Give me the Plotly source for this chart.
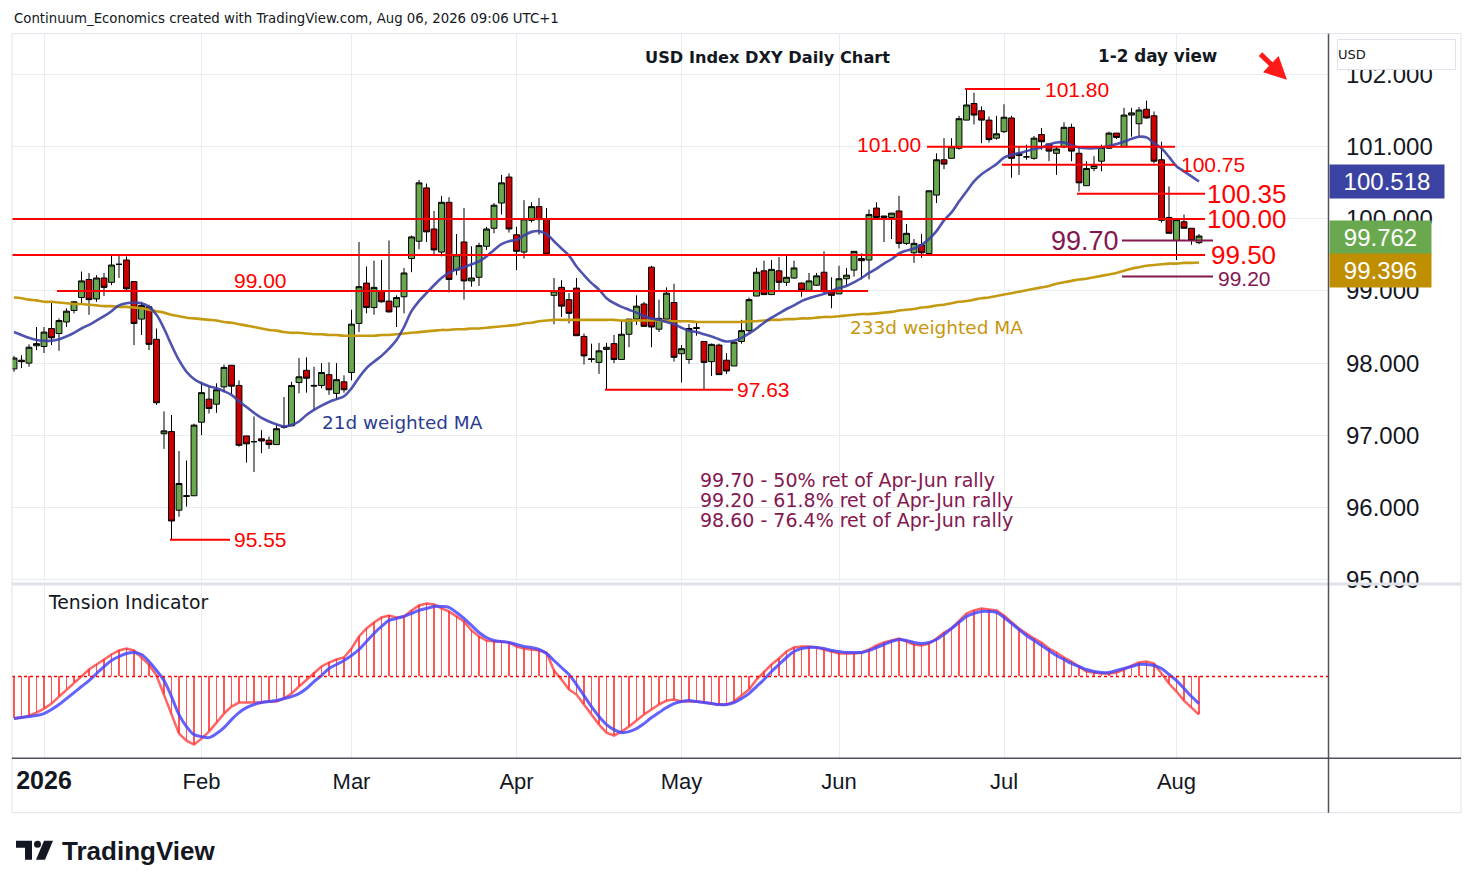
import pandas as pd
import plotly.graph_objects as go

# ---------------- DATA ----------------
dates = [d for d in pd.bdate_range("2025-12-26", "2026-08-06")
         if d.strftime("%Y-%m-%d") not in ("2026-01-01",)]

opens = [97.92, 98.04, 98.00, 98.24,
         98.23, 98.48, 98.41, 98.57, 98.73, 98.91, 99.16, 98.89, 99.18, 99.12,
         99.37, 99.43, 99.13, 98.61, 98.78, 98.33, 97.02, 97.05, 95.96, 96.15,
         96.16, 97.18, 97.50, 97.43, 97.67, 97.97, 97.69, 96.99, 96.91, 96.95,
         96.93, 96.87, 97.11, 97.13, 97.73, 97.90, 97.68, 97.69, 97.84, 97.58,
         97.74, 97.87, 98.55, 99.11, 98.77, 99.00, 98.86, 98.78, 98.92, 99.45,
         99.69, 100.43, 99.86, 99.54, 100.23, 99.29, 99.68, 99.14, 99.19, 99.62,
         99.87, 100.22, 100.58, 99.78, 99.54, 99.98, 100.17, 100.00, 98.94, 99.05,
         98.88, 99.04, 98.37, 98.06, 98.01, 98.19, 98.27, 98.05, 98.40, 98.61,
         98.82, 99.33, 98.47, 98.61, 98.84, 98.13, 98.05, 98.48, 98.30, 98.02,
         98.25, 98.04, 97.96, 98.30, 98.45, 98.93, 99.28, 98.95, 99.28, 99.12,
         99.18, 99.11, 99.01, 99.08, 99.26, 98.99, 98.96, 99.17, 99.29, 99.45,
         99.43, 100.15, 100.04, 100.02, 100.11, 99.66, 99.53, 99.64, 99.52, 100.33,
         100.82, 100.84, 100.98, 101.37, 101.60, 101.50, 101.37, 101.12, 101.21, 101.40,
         100.91, 100.86, 100.84, 101.17, 101.04, 100.91, 101.00, 101.27, 100.91, 100.46,
         100.70, 100.80, 100.98, 101.19, 101.00, 101.44, 101.32, 101.52, 101.43, 100.82,
         100.02, 99.70, 99.96, 99.87, 99.67]

highs = [98.10, 98.11, 98.26, 98.50,
         98.50, 98.85, 98.62, 98.76, 98.86, 99.27, 99.25, 99.22, 99.25, 99.50,
         99.50, 99.48, 99.13, 98.85, 98.81, 98.48, 97.33, 97.28, 96.78, 96.65,
         97.16, 97.74, 97.68, 97.72, 97.98, 97.97, 97.76, 96.99, 97.26, 97.07,
         96.98, 97.16, 97.53, 97.74, 98.07, 98.08, 97.95, 98.00, 98.01, 98.00,
         97.83, 98.74, 99.68, 99.34, 99.42, 99.43, 99.70, 98.94, 99.32, 99.77,
         100.54, 100.49, 100.11, 100.32, 100.30, 99.79, 100.15, 99.62, 99.67, 99.89,
         100.22, 100.61, 100.63, 99.89, 100.26, 100.23, 100.29, 100.15, 99.18, 99.15,
         98.97, 99.18, 98.41, 98.27, 98.28, 98.28, 98.39, 98.60, 98.61, 98.94,
         98.85, 99.35, 98.88, 99.05, 99.10, 98.25, 98.54, 98.56, 98.30, 98.27,
         98.27, 98.14, 98.29, 98.60, 98.91, 99.32, 99.42, 99.43, 99.47, 99.49,
         99.42, 99.12, 99.25, 99.25, 99.55, 99.19, 99.35, 99.32, 99.55, 99.52,
         100.13, 100.23, 100.04, 100.08, 100.32, 99.93, 99.72, 99.79, 100.39, 100.91,
         101.12, 101.12, 101.43, 101.80, 101.75, 101.56, 101.42, 101.43, 101.59, 101.43,
         101.01, 101.03, 101.15, 101.26, 101.04, 101.00, 101.34, 101.32, 101.00, 100.80,
         100.87, 101.03, 101.21, 101.19, 101.54, 101.54, 101.55, 101.64, 101.49, 101.07,
         100.45, 99.99, 100.06, 99.87, 99.79]

lows = [97.88, 97.93, 97.95, 98.18,
        98.14, 98.25, 98.17, 98.50, 98.69, 98.83, 98.67, 98.85, 98.93, 99.08,
        99.18, 99.01, 98.25, 98.39, 98.18, 97.42, 96.81, 95.55, 95.87, 96.01,
        96.16, 97.00, 97.30, 97.31, 97.60, 97.57, 96.84, 96.62, 96.49, 96.75,
        96.81, 96.87, 97.09, 97.13, 97.58, 97.59, 97.35, 97.65, 97.56, 97.49,
        97.59, 97.76, 98.43, 98.69, 98.67, 98.84, 98.70, 98.50, 98.69, 99.26,
        99.58, 99.68, 99.51, 99.48, 98.98, 99.22, 98.88, 99.06, 99.07, 99.57,
        99.80, 100.06, 99.81, 99.29, 99.45, 99.95, 99.78, 99.51, 98.54, 98.64,
        98.55, 98.38, 97.98, 98.01, 97.85, 97.63, 98.00, 98.05, 98.22, 98.53,
        98.50, 98.22, 98.43, 98.61, 98.02, 97.73, 97.99, 98.38, 97.63, 97.82,
        97.84, 97.85, 97.96, 98.27, 98.42, 98.93, 98.95, 98.95, 98.99, 99.07,
        99.17, 98.92, 98.99, 99.07, 98.97, 98.76, 98.96, 99.08, 99.20, 99.16,
        99.16, 99.99, 99.68, 99.72, 99.59, 99.64, 99.39, 99.46, 99.52, 100.22,
        100.69, 100.84, 100.96, 101.37, 101.31, 101.05, 101.06, 101.10, 101.19, 100.57,
        100.61, 100.82, 100.82, 100.96, 100.80, 100.61, 100.98, 100.80, 100.38, 100.46,
        100.66, 100.66, 100.97, 101.11, 101.00, 101.14, 101.14, 101.39, 100.77, 99.95,
        99.80, 99.43, 99.87, 99.64, 99.65]

closes = [98.07, 98.02, 98.22, 98.27,
          98.43, 98.35, 98.59, 98.72, 98.85, 99.14, 98.88, 99.18, 99.05, 99.36,
          99.37, 99.03, 98.55, 98.80, 98.26, 97.45, 97.06, 95.81, 96.33, 96.16,
          97.14, 97.59, 97.37, 97.63, 97.94, 97.68, 96.86, 96.88, 96.91, 96.92,
          96.87, 97.09, 97.12, 97.69, 97.81, 97.79, 97.69, 97.87, 97.63, 97.77,
          97.63, 98.54, 99.06, 98.77, 99.05, 98.85, 98.71, 98.91, 99.25, 99.75,
          100.50, 99.82, 99.57, 100.23, 99.16, 99.50, 99.14, 99.18, 99.63, 99.86,
          100.19, 100.50, 99.86, 99.55, 100.00, 100.17, 99.99, 99.51, 99.00, 98.79,
          98.69, 98.38, 98.10, 98.05, 98.17, 98.22, 98.05, 98.40, 98.61, 98.79,
          98.51, 98.50, 98.62, 98.97, 98.08, 98.20, 98.48, 98.49, 98.01, 98.26,
          97.84, 97.89, 98.29, 98.45, 98.88, 99.26, 98.95, 99.30, 99.12, 99.19,
          99.32, 99.01, 99.14, 99.21, 98.99, 98.94, 99.17, 99.22, 99.55, 99.42,
          100.06, 100.02, 100.02, 100.08, 99.66, 99.80, 99.66, 99.53, 100.39, 100.82,
          100.76, 101.00, 101.39, 101.58, 101.44, 101.37, 101.10, 101.18, 101.41, 100.84,
          100.88, 100.86, 101.12, 101.07, 100.94, 100.97, 101.27, 100.94, 100.50, 100.70,
          100.74, 100.99, 101.19, 101.13, 101.44, 101.47, 101.51, 101.40, 100.80, 99.98,
          99.80, 99.99, 99.87, 99.70, 99.762]

wma21 = [98.43, 98.39, 98.35, 98.32,
         98.31, 98.31, 98.33, 98.37, 98.42, 98.48, 98.53, 98.59, 98.65, 98.72,
         98.80, 98.83, 98.84, 98.83, 98.78, 98.67, 98.48, 98.25, 98.04, 97.88,
         97.78, 97.72, 97.68, 97.65, 97.61, 97.56, 97.47, 97.39, 97.31, 97.24,
         97.19, 97.15, 97.12, 97.14, 97.19, 97.28, 97.35, 97.41, 97.46, 97.50,
         97.54, 97.65, 97.80, 97.93, 98.02, 98.10, 98.20, 98.32, 98.50, 98.72,
         98.86, 98.97, 99.08, 99.18, 99.25, 99.30, 99.33, 99.37, 99.41, 99.48,
         99.57, 99.65, 99.69, 99.71, 99.77, 99.82, 99.83, 99.79, 99.69, 99.59,
         99.49, 99.34, 99.22, 99.11, 99.02, 98.90, 98.83, 98.78, 98.74, 98.70,
         98.65, 98.62, 98.60, 98.57, 98.54, 98.49, 98.45, 98.43, 98.40, 98.37,
         98.33, 98.30, 98.31, 98.35, 98.41, 98.48, 98.56, 98.63, 98.69, 98.75,
         98.80, 98.86, 98.90, 98.93, 98.96, 99.00, 99.04, 99.07, 99.12, 99.18,
         99.25, 99.31, 99.38, 99.44, 99.52, 99.56, 99.59, 99.64, 99.72, 99.83,
         99.98, 100.09, 100.24, 100.38, 100.52, 100.62, 100.69, 100.76, 100.85, 100.89,
         100.91, 100.94, 100.97, 100.99, 101.03, 101.06, 101.06, 101.02, 100.99, 100.98,
         100.98, 100.99, 101.01, 101.04, 101.07, 101.11, 101.14, 101.13, 101.05, 100.98,
         100.86, 100.73, 100.66, 100.59, 100.518]

wma233 = [98.91, 98.90, 98.88, 98.87,
          98.85, 98.85, 98.84, 98.83, 98.82, 98.82, 98.81, 98.80, 98.79, 98.79,
          98.78, 98.78, 98.77, 98.76, 98.74, 98.72, 98.70, 98.67, 98.65, 98.63,
          98.62, 98.61, 98.60, 98.59, 98.57, 98.56, 98.54, 98.52, 98.50, 98.48,
          98.46, 98.45, 98.43, 98.42, 98.42, 98.41, 98.40, 98.40, 98.39, 98.39,
          98.38, 98.38, 98.38, 98.38, 98.38, 98.39, 98.39, 98.40, 98.41, 98.42,
          98.43, 98.44, 98.45, 98.46, 98.46, 98.47, 98.47, 98.48, 98.48, 98.49,
          98.50, 98.51, 98.52, 98.53, 98.55, 98.56, 98.58, 98.59, 98.60, 98.60,
          98.60, 98.60, 98.60, 98.60, 98.60, 98.60, 98.60, 98.59, 98.59, 98.59,
          98.59, 98.59, 98.59, 98.58, 98.58, 98.58, 98.58, 98.57, 98.57, 98.57,
          98.57, 98.57, 98.57, 98.57, 98.58, 98.58, 98.59, 98.60, 98.60, 98.61,
          98.61, 98.62, 98.62, 98.63, 98.64, 98.64, 98.65, 98.66, 98.67, 98.68,
          98.68, 98.69, 98.70, 98.71, 98.73, 98.74, 98.75, 98.77, 98.78, 98.80,
          98.81, 98.83, 98.85, 98.86, 98.88, 98.90, 98.91, 98.93, 98.95, 98.97,
          98.99, 99.01, 99.03, 99.05, 99.07, 99.10, 99.12, 99.14, 99.16, 99.17,
          99.19, 99.21, 99.23, 99.25, 99.28, 99.31, 99.33, 99.35, 99.36, 99.37,
          99.38, 99.38, 99.39, 99.39, 99.396]

tension = [-42, -41, -39, -36,
           -32, -27, -20, -13, -6, 0, 7, 12, 17, 22,
           26, 28, 26, 19, 12, 1, -18, -38, -57, -64,
           -68, -62, -55, -46, -37, -30, -26, -26, -26, -26,
           -25, -25, -22, -17, -10, -3, 4, 10, 14, 17,
           19, 28, 40, 48, 54, 59, 61, 59, 60, 66,
           71, 73, 72, 68, 65, 60, 55, 46, 40, 36,
           35, 35, 34, 30, 28, 27, 26, 24, 6, -3,
           -13, -18, -28, -37, -48, -56, -59, -55, -50, -44,
           -38, -33, -28, -24, -23, -25, -25, -25, -26, -27,
           -28, -28, -25, -19, -13, -3, 5, 12, 18, 25,
           29, 30, 30, 29, 27, 25, 23, 23, 23, 24,
           27, 31, 34, 36, 38, 35, 32, 31, 33, 38,
           44, 48, 55, 63, 66, 68, 67, 66, 61, 54,
           48, 43, 38, 34, 28, 24, 19, 15, 10, 5,
           4, 3, 3, 4, 7, 11, 14, 15, 13, 3,
           -7, -15, -24, -31, -38]

tension_signal = [-42, -41, -40, -39,
                  -37, -33, -28, -22, -16, -10, -4, 3, 10, 16,
                  20, 23, 24, 22, 15, 6, -4, -20, -38, -50,
                  -58, -60, -61, -57, -51, -43, -36, -31, -28, -26,
                  -25, -24, -22, -20, -17, -12, -5, 1, 8, 12,
                  16, 21, 27, 35, 43, 50, 56, 58, 60, 63,
                  66, 68, 70, 70, 69, 64, 58, 51, 44, 39,
                  36, 35, 34, 32, 30, 29, 27, 23, 16, 9,
                  2, -8, -19, -30, -40, -48, -53, -56, -55, -52,
                  -47, -41, -36, -31, -27, -25, -24, -25, -26, -27,
                  -28, -28, -26, -22, -17, -10, -3, 5, 12, 19,
                  25, 28, 29, 29, 28, 26, 25, 24, 24, 24,
                  26, 29, 32, 35, 37, 36, 34, 33, 34, 37,
                  42, 48, 54, 60, 63, 65, 65, 64, 59, 53,
                  47, 41, 36, 31, 26, 21, 17, 13, 10, 7,
                  5, 4, 4, 6, 8, 10, 12, 12, 11, 8,
                  2, -4, -12, -20, -27]

price_ticks = [95, 96, 97, 98, 99, 100, 101, 102]

red_levels = [100.00, 99.50, 99.00, 101.00, 101.80, 100.75, 100.35, 97.63, 95.55]
fib_levels = [99.70, 99.20]
fib_notes = ["99.70 - 50% ret of Apr-Jun rally",
             "99.20 - 61.8% ret of Apr-Jun rally",
             "98.60 - 76.4% ret of Apr-Jun rally"]

n = len(dates)
for arr in (opens, highs, lows, closes, wma21, wma233, tension, tension_signal):
    assert len(arr) == n, len(arr)

xs = list(range(n))

tick_pos, tick_txt = [], []
prev = None
for k, d in enumerate(dates):
    if d.year == 2026 and d.month != prev:
        tick_pos.append(k)
        tick_txt.append("<b><span style='font-size:25px'>2026</span></b>" if d.month == 1
                        else d.strftime("%b"))
    prev = d.month if d.year == 2026 else None

# ---------------- LAYOUT HELPERS ----------------
# page body has an 8px margin; the captured page is slightly squeezed vertically
OFFX, OFFY, KY = 8, 8.4, 0.986
FW, FH = 1458, 871
def PX(x): return (x - OFFX) / FW
def PY(y): return 1 - ((y - OFFY) / KY) / FH
def BX(px): return (px - 44) / 7.5 + 4   # page pixel -> bar position (for placing labels)

FONT = "Liberation Sans"
TFONT = "DejaVu Sans"
RED = "#ff0000"
MAROON = "#84174f"
BLUE = "#3a41a6"
GOLD = "#c49a10"

fig = go.Figure()

fig.add_trace(go.Scatter(x=xs, y=wma233, mode="lines", line=dict(color=GOLD, width=2.6, shape="spline"),
                         xaxis="x", yaxis="y", hoverinfo="skip"))
fig.add_trace(go.Scatter(x=xs, y=wma21, mode="lines", line=dict(color=BLUE, width=2.6, shape="spline"),
                         opacity=0.9, xaxis="x", yaxis="y", hoverinfo="skip"))
fig.add_trace(go.Candlestick(x=xs, open=opens, high=highs, low=lows, close=closes,
                             increasing=dict(line=dict(color="#000000", width=1), fillcolor="#6aa84f"),
                             decreasing=dict(line=dict(color="#000000", width=1), fillcolor="#cc0000"),
                             whiskerwidth=0, xaxis="x", yaxis="y", hoverinfo="skip"))

fig.add_trace(go.Bar(x=xs, y=tension, width=0.2, marker=dict(color="rgba(255,30,30,0.75)", line=dict(width=0)),
                     xaxis="x2", yaxis="y2", hoverinfo="skip"))
fig.add_trace(go.Scatter(x=xs, y=tension, mode="lines", line=dict(color="rgba(255,50,50,0.75)", width=2.5),
                         xaxis="x2", yaxis="y2", hoverinfo="skip"))
fig.add_trace(go.Scatter(x=xs, y=tension_signal, mode="lines",
                         line=dict(color="rgba(70,70,255,0.85)", width=3, shape="spline"),
                         xaxis="x2", yaxis="y2", hoverinfo="skip"))

xr = [BX(12), BX(1328)]
shapes = []
red_spans = {100.00: (xr[0], BX(1205)), 99.50: (xr[0], BX(1205)), 99.00: (BX(57), BX(868)),
             101.00: (BX(927), BX(1175)), 101.80: (BX(965), BX(1040)), 100.75: (BX(1002), BX(1175)),
             100.35: (BX(1077), BX(1205)), 97.63: (BX(605), BX(733)), 95.55: (BX(170), BX(230))}
for lv in red_levels:
    a, b = red_spans[lv]
    shapes.append(dict(type="line", xref="x", yref="y", x0=a, x1=b, y0=lv, y1=lv,
                       line=dict(color=RED, width=2)))
for lv in fib_levels:
    shapes.append(dict(type="line", xref="x", yref="y", x0=BX(1122), x1=BX(1213), y0=lv, y1=lv,
                       line=dict(color=MAROON, width=2)))
shapes.append(dict(type="line", xref="x2 domain", yref="y2", x0=0, x1=1, y0=0, y1=0,
                   line=dict(color=RED, width=1.5, dash="dot")))
shapes += [
    dict(type="rect", xref="paper", yref="paper", x0=PX(12), x1=PX(1461), y0=PY(812), y1=PY(34),
         line=dict(color="#e0e3eb", width=1)),
    dict(type="line", xref="paper", yref="paper", x0=PX(12), x1=PX(1461), y0=PY(583.5), y1=PY(583.5),
         line=dict(color="#dfe2e8", width=3)),
    dict(type="line", xref="paper", yref="paper", x0=PX(12), x1=PX(1461), y0=PY(757.5), y1=PY(757.5),
         line=dict(color="#50535e", width=1.5)),
    dict(type="line", xref="paper", yref="paper", x0=PX(1328.5), x1=PX(1328.5), y0=PY(812), y1=PY(34),
         line=dict(color="#50535e", width=1.5)),
]
# TradingView logo mark
shapes += [
    dict(type="path", xref="paper", yref="paper", fillcolor="#131722", line=dict(width=0),
         path=f"M {PX(16)},{PY(840)} L {PX(32)},{PY(840)} L {PX(32)},{PY(859)} L {PX(25)},{PY(859)} "
              f"L {PX(25)},{PY(847)} L {PX(16)},{PY(847)} Z"),
    dict(type="circle", xref="paper", yref="paper", fillcolor="#131722", line=dict(width=0),
         x0=PX(34), x1=PX(41), y0=PY(847), y1=PY(840)),
    dict(type="path", xref="paper", yref="paper", fillcolor="#131722", line=dict(width=0),
         path=f"M {PX(44)},{PY(840)} L {PX(53)},{PY(840)} L {PX(45)},{PY(859)} L {PX(36)},{PY(859)} Z"),
]

ann = []
def A(text, x, y, size, color="#131722", xanchor="left", yanchor="middle", xref="paper", yref="paper",
      family=FONT, **kw):
    d = dict(text=text, x=x, y=y, xref=xref, yref=yref, xanchor=xanchor, yanchor=yanchor,
             showarrow=False, font=dict(family=family, size=size, color=color))
    d.update(kw)
    ann.append(d)

A("Continuum_Economics created with TradingView.com, Aug 06, 2026 09:06 UTC+1", PX(12), PY(19), 13.3,
  family=TFONT)
A("<b>USD Index DXY Daily Chart</b>", PX(767), PY(58), 16.2, xanchor="center", family=TFONT)
A("<b>1-2 day view</b>", PX(1157), PY(56), 16.8, xanchor="center", family=TFONT)
A("Tension Indicator", PX(46), PY(602), 18.8, family=TFONT)
A("21d weighted MA", PX(320), PY(422), 18.4, color="#2b3d8f", family=TFONT)
A("233d weighted MA", PX(848), PY(327), 18.5, color="#c8960c", family=TFONT)
for k, t in enumerate(fib_notes):
    A(t, PX(698), PY(480 + 20 * k), 19, color=MAROON, family=TFONT)
A("<b>TradingView</b>", PX(60), PY(850), 26)

A("100.00", BX(1205), 100.00, 26, RED, xref="x", yref="y")
A("99.50", BX(1209), 99.50, 26, RED, xref="x", yref="y")
A("100.35", BX(1205), 100.35, 26, RED, xref="x", yref="y")
A("100.75", BX(1179), 100.75, 21, RED, xref="x", yref="y")
A("101.80", BX(1043), 101.80, 21, RED, xref="x", yref="y")
A("101.00", BX(923), 101.03, 21, RED, xanchor="right", xref="x", yref="y")
A("99.00", BX(260), 99.15, 21, RED, xanchor="center", xref="x", yref="y")
A("97.63", BX(735), 97.63, 21, RED, xref="x", yref="y")
A("95.55", BX(232), 95.55, 21, RED, xref="x", yref="y")
A("99.70", BX(1121), 99.70, 27, MAROON, xanchor="right", xref="x", yref="y")
A("99.20", BX(1216), 99.18, 21, MAROON, xref="x", yref="y")

def BOX(text, y, color, width):
    ann.append(dict(text=text, x=PX(1329), y=PY(y), xref="paper", yref="paper", xanchor="left",
                    yanchor="middle", showarrow=False, bgcolor=color, width=width, height=33,
                    borderpad=0, align="center", font=dict(family=FONT, size=24, color="white")))
BOX(f"{wma21[-1]:.3f}", 181.5, "#3b43a2", 114)
BOX(f"{closes[-1]:.3f}", 237.5, "#6aa84f", 101)
BOX(f"{wma233[-1]:.3f}", 270.5, "#bf8f00", 101)
ann.append(dict(text="USD", x=PX(1337), y=PY(55), xref="paper", yref="paper", xanchor="left",
                yanchor="middle", showarrow=False, bgcolor="white", bordercolor="#e0e3eb", borderwidth=1,
                width=117, height=29, align="left", borderpad=0,
                font=dict(family=TFONT, size=13, color="#131722")))
ann.append(dict(text="", x=PX(1287), y=PY(80), xref="paper", yref="paper", ax=-28, ay=-27,
                showarrow=True, arrowhead=2, arrowsize=0.9, arrowwidth=5, arrowcolor="#ff1a1a"))

GRID = "#e8edf2"
fig.update_layout(
    width=FW, height=FH, margin=dict(l=0, r=0, t=0, b=0),
    paper_bgcolor="white", plot_bgcolor="white", showlegend=False, hovermode=False,
    boxgap=0.22, boxgroupgap=0.0, bargap=0,
    font=dict(family=FONT, color="#131722"),
    xaxis=dict(domain=[PX(12), PX(1328)], range=xr, anchor="y", showticklabels=False,
               tickvals=tick_pos, showgrid=True, gridcolor=GRID, gridwidth=1, zeroline=False,
               rangeslider=dict(visible=False), showline=False, ticks=""),
    yaxis=dict(domain=[PY(581), PY(34)], range=[100 - (581 - 219) / 72, 100 + (219 - 34) / 72],
               anchor="x", side="right", tickvals=price_ticks, ticktext=[f"{v:.3f}" for v in price_ticks],
               tickfont=dict(family=FONT, size=24, color="#131722"), showgrid=True, gridcolor=GRID,
               zeroline=False, ticks="", ticklabelstandoff=17, showline=False),
    xaxis2=dict(domain=[PX(12), PX(1328)], range=xr, anchor="y2", tickvals=tick_pos, ticktext=tick_txt,
                tickfont=dict(family=FONT, size=22, color="#131722"), showgrid=True, gridcolor=GRID,
                zeroline=False, ticks="", ticklabelstandoff=8, showline=False),
    yaxis2=dict(domain=[PY(757), PY(586)], range=[-81, 90], anchor="x2", side="right",
                showticklabels=False, showgrid=False, zeroline=False, ticks=""),
    shapes=shapes, annotations=ann,
)

fig.write_html("out.html")
